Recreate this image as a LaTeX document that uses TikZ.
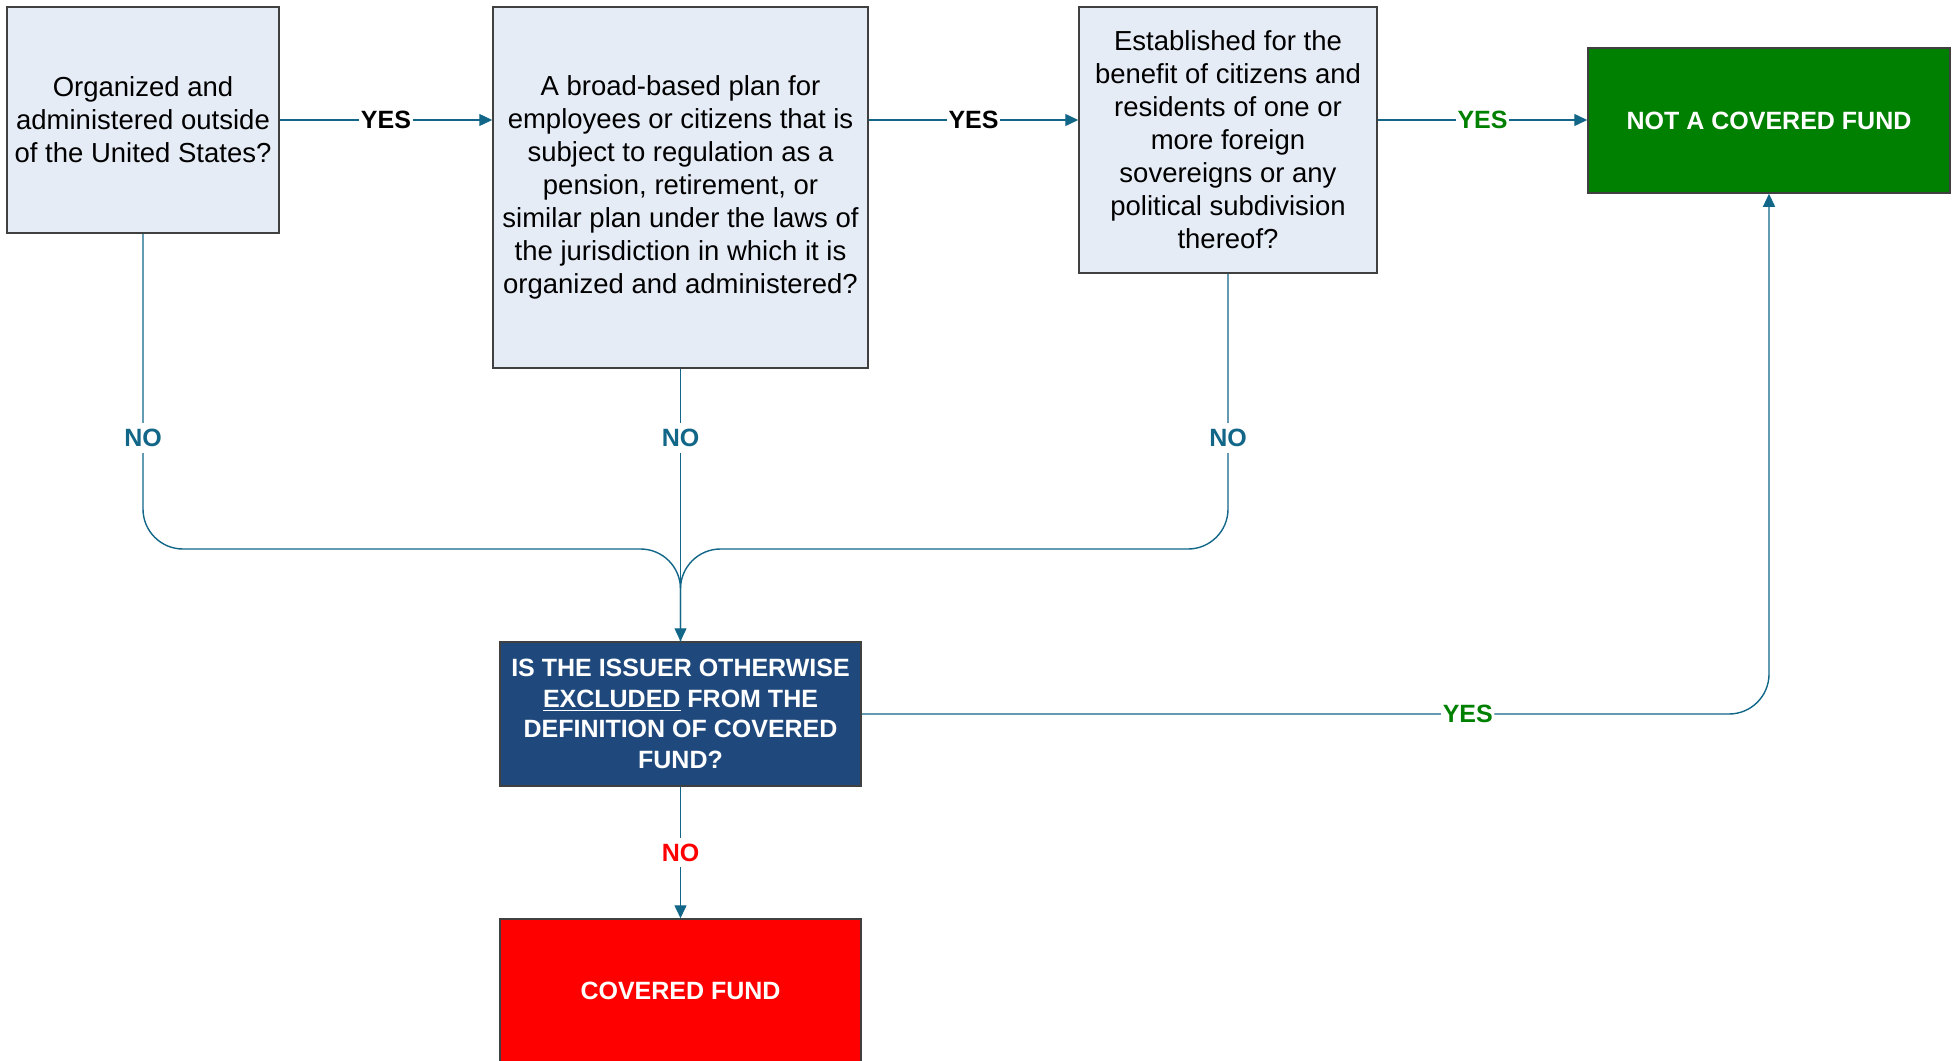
\documentclass[tikz,border=0pt]{standalone}
\usepackage{fontspec}
\setmainfont{Liberation Sans}
\usetikzlibrary{arrows.meta,calc}
\definecolor{qfill}{RGB}{230,236,246}
\definecolor{linkblue}{RGB}{18,102,136}
\definecolor{askblue}{RGB}{31,73,125}
\definecolor{yesgreen}{RGB}{0,128,0}
\definecolor{nored}{RGB}{255,0,0}
\tikzset{
  question/.style={draw=black!75, fill=qfill, line width=0.75pt, align=center, inner sep=0pt,
    font=\fontsize{13.75}{16.5}\selectfont},
  outcome/.style={draw=black!75, line width=0.75pt, align=center, inner sep=0pt, text=white,
    font=\fontsize{12.5}{15.25}\selectfont\bfseries},
  link/.style={draw=linkblue, line width=0.7pt},
  lbl/.style={fill=white, inner xsep=0.8pt, inner ysep=3pt, font=\fontsize{12.5}{15}\selectfont\bfseries},
}
\begin{document}
\begin{tikzpicture}[x=0.5pt,y=-0.5pt,>={Triangle[length=6.5pt,width=6pt]}]
  \useasboundingbox (0,0) rectangle (1958,1060);

  % Questions
  \node[question, minimum width=136pt, minimum height=113pt] (q1) at (143,120)
    {Organized and\\administered outside\\of the United States?};
  \node[question, minimum width=187.5pt, minimum height=180.5pt] (q2) at (680.5,187.5)
    {A broad-based plan for\\employees or citizens that is\\subject to regulation as a\\pension, retirement, or\\similar plan under the laws of\\the jurisdiction in which it is\\organized and administered?};
  \node[question, minimum width=149pt, minimum height=133pt] (q3) at (1228,140)
    {Established for the\\benefit of citizens and\\residents of one or\\more foreign\\sovereigns or any\\political subdivision\\thereof?};

  % Outcomes
  \node[outcome, fill=yesgreen, minimum width=181pt, minimum height=72.5pt] (nocf) at (1769,120.5)
    {NOT A COVERED FUND};
  \node[outcome, fill=askblue, minimum width=180.5pt, minimum height=72pt] (excl) at (680.5,714)
    {IS THE ISSUER OTHERWISE\\\underline{EXCLUDED} FROM THE\\DEFINITION OF COVERED\\FUND?};
  \node[outcome, fill=nored, minimum width=180.5pt, minimum height=71.5pt] (cf) at (680.5,990.5)
    {COVERED FUND};

  % YES along the top
  \draw[link,->] (q1.east) -- node[lbl] {YES} (q1.east -| q2.west);
  \draw[link,->] (q2.east |- q1.east) -- node[lbl] {YES} (q1.east -| q3.west);
  \draw[link,->] (q3.east |- q1.east) -- node[lbl, text=yesgreen] {YES} (q1.east -| nocf.west);

  % NO branches merging into the next question
  \coordinate (join) at (680.5,549);
  \coordinate (nolevel) at (0,438);
  \draw[link, rounded corners=20pt] (q1.south) -- (q1.south |- join) -- (join) -- (excl.north);
  \draw[link, rounded corners=20pt] (q3.south) -- (q3.south |- join) -- (join) -- (excl.north);
  \draw[link,->] (q2.south) -- (excl.north);
  \node[lbl, text=linkblue] (no1) at (q1.south |- nolevel) {NO};
  \node[lbl, text=linkblue] (no2) at (q2.south |- nolevel) {NO};
  \node[lbl, text=linkblue] (no3) at (q3.south |- nolevel) {NO};

  % Final answer
  \draw[link,->] (excl.south) -- node[lbl, text=nored] {NO} (cf.north);
  \draw[link,->, rounded corners=20pt] (excl.east)
    -- node[pos=0.668, lbl, text=yesgreen] {YES} (excl.east -| nocf.south) -- (nocf.south);
\end{tikzpicture}
\end{document}
